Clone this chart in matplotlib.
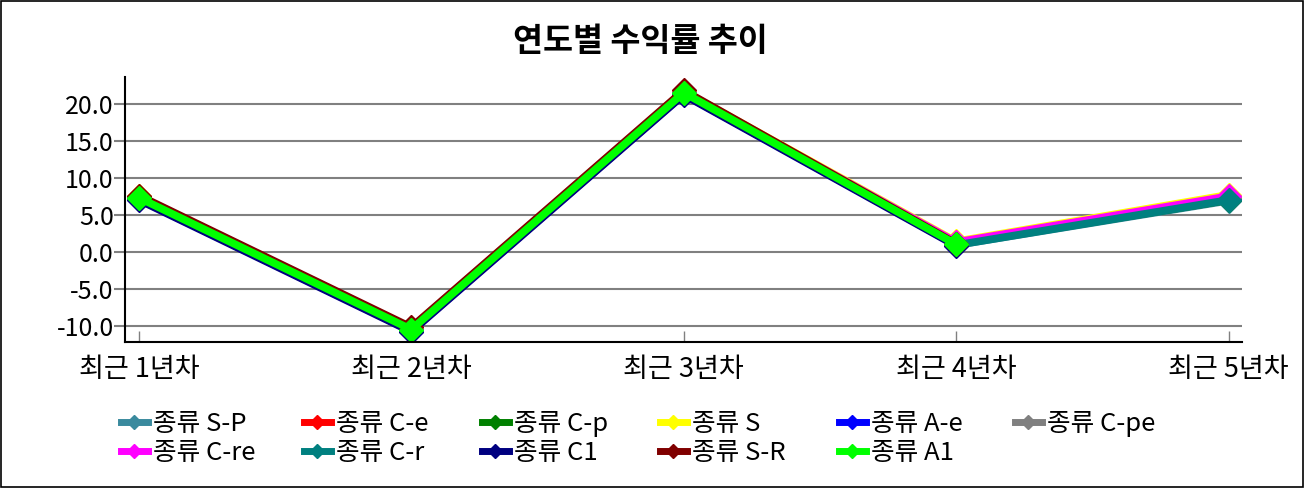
import numpy as np
import matplotlib.pyplot as plt
from matplotlib.lines import Line2D
from matplotlib.patches import Rectangle

plt.rcParams['font.family'] = ['Noto Sans CJK KR', 'DejaVu Sans']

years = ['최근 1년차', '최근 2년차', '최근 3년차', '최근 4년차', '최근 5년차']
names = ['종류 S-P', '종류 C-e', '종류 C-p', '종류 S', '종류 A-e', '종류 C-pe',
         '종류 C-re', '종류 C-r', '종류 C1', '종류 S-R', '종류 A1']
colors = ['#3a8a9e', '#ff0000', '#008000', '#ffff00', '#0000ff', '#808080',
          '#ff00ff', '#008080', '#000080', '#800000', '#00ff00']

s_p = [7.2, -10.6, 21.3, 0.9, 6.9]
c_e = [7.4, -10.4, 21.6, 1.2, 7.3]
c_p = [7.3, -10.5, 21.5, 1.0, 7.0]
s_ = [7.5, -10.3, 21.7, 1.4, 7.7]
a_e = [7.1, -10.7, 21.3, 1.0, 7.1]
c_pe = [7.3, -10.5, 21.5, 1.2, 7.3]
c_re = [7.4, -10.4, 21.6, 1.3, 7.5]
c_r = [7.2, -10.6, 21.4, 0.9, 7.0]
c1 = [7.0, -10.8, 21.2, 0.8, np.nan]
s_r = [7.6, -10.2, 21.8, 1.1, np.nan]
a1 = [7.3, -10.5, 21.5, 1.0, np.nan]

series = [s_p, c_e, c_p, s_, a_e, c_pe, c_re, c_r, c1, s_r, a1]

fig = plt.figure(figsize=(13.06, 4.88), dpi=100)
fig.patches.append(Rectangle((0.001, 0.002), 0.997, 0.995, transform=fig.transFigure,
                             fill=False, edgecolor='black', linewidth=1.2))

ax = fig.add_axes([0.0957, 0.299, 0.855, 0.543])
x = np.arange(1, len(years) + 1)
for vals, col in zip(series, colors):
    ax.plot(x, vals, color=col, lw=5.5, marker='D', markersize=12, solid_joinstyle='miter')

ax.set_xlim(0.949, 5.048)
ax.set_ylim(-12.2, 23.6)
yt = [-10, -5, 0, 5, 10, 15, 20]
ax.set_yticks(yt)
ax.set_yticklabels([f'{v:.1f}' for v in yt])
ax.set_xticks(x)
ax.set_xticklabels(years)
ax.yaxis.grid(True, color='#808080', lw=1.5)
ax.set_axisbelow(True)
for s in ['top', 'right']:
    ax.spines[s].set_visible(False)
ax.spines['left'].set_linewidth(1.5)
ax.spines['bottom'].set_linewidth(1.5)
ax.tick_params(axis='y', labelsize=18, length=8, width=1.5, color='#808080', pad=0)
ax.tick_params(axis='x', labelsize=19.5, direction='in', length=8, width=1, color='#808080', pad=10)

fig.text(640 / 1306, 1 - 42 / 488, '연도별 수익률 추이', ha='center', va='center',
         fontsize=23.5, fontweight='bold')

# legend, filled row by row like the original
col_x = [121, 304, 482, 660, 839, 1015]
for j, cx in enumerate(col_x):
    idx = [j, j + 6] if j + 6 < len(names) else [j]
    hs = [Line2D([], [], color=colors[i], lw=5, marker='D', markersize=7) for i in idx]
    fig.legend(hs, [names[i] for i in idx], loc='upper left',
               bbox_to_anchor=(cx / 1306, 1 - 411 / 488), frameon=False, fontsize=18.5,
               handlelength=1.05, handletextpad=0.2, labelspacing=0.12,
               borderaxespad=0, borderpad=0)

fig.savefig('out.png', dpi=100)
